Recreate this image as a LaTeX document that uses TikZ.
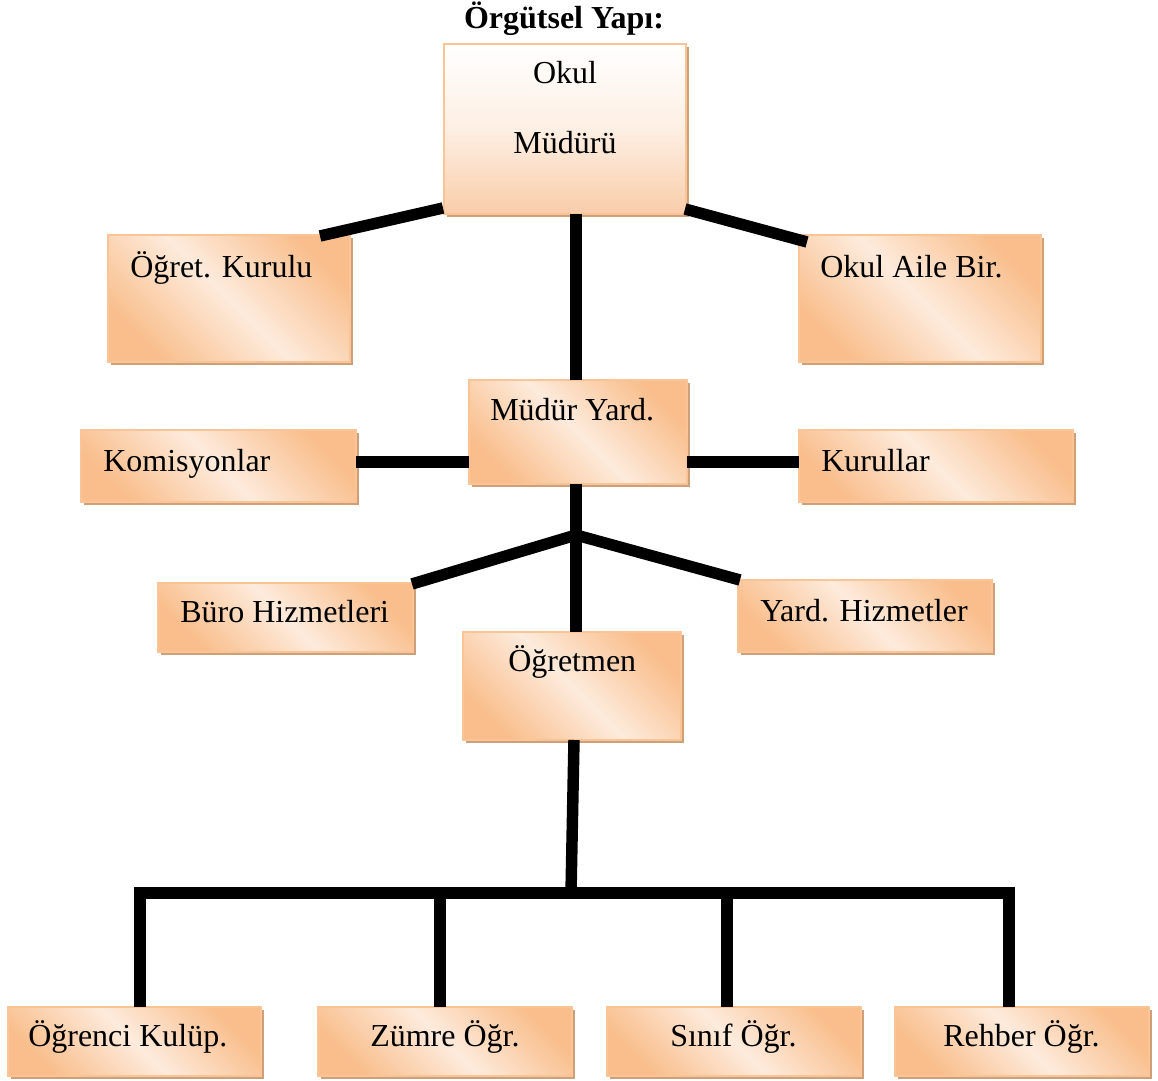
\documentclass[tikz,border=0pt]{standalone}
\usepackage{fontspec}
\setmainfont{Liberation Serif}
\usetikzlibrary{fit,calc,shadows}
\definecolor{orD}{RGB}{249,190,140}
\definecolor{orL}{RGB}{253,235,220}
\definecolor{orB}{RGB}{250,196,150}
\definecolor{shc}{RGB}{205,160,122}
\definecolor{orT}{RGB}{249,205,170}
\tikzset{
  boxbase/.style={draw=orB, line width=1.2pt, inner sep=0pt, outer sep=0pt, rectangle,
    general shadow={fill=shc, shadow xshift=2.6pt, shadow yshift=-2.6pt}},
  box/.style={boxbase, top color=orD, bottom color=orD, middle color=orL, shading angle=-45},
  topbox/.style={boxbase, top color=white, bottom color=orT, middle color=orL!80!white},
  lbl/.style={anchor=base west, inner sep=0pt},
  conn/.style={line width=8.6pt, black}
}
\begin{document}
\begin{tikzpicture}[x=0.75pt, y=-0.75pt, font=\fontsize{24}{28}\selectfont]
\useasboundingbox (0,0) rectangle (1158,1081);
% title
\node[anchor=base, inner sep=0pt, font=\fontsize{24}{28}\selectfont\bfseries] (title) at (564,29) {Örgütsel Yapı:};
% boxes
\node[topbox, fit={(444,44)(686,214)}] (okul) {};
\node[box, fit={(108,235)(350,362)}] (ogret) {};
\node[box, fit={(799,235)(1041,362)}] (oab) {};
\node[box, fit={(469,380)(687,484)}] (myd) {};
\node[box, fit={(81,430)(356,502)}] (kom) {};
\node[box, fit={(799,430)(1073,502)}] (kur) {};
\node[box, fit={(158,583)(413,652)}] (buro) {};
\node[box, fit={(738,580)(992,652)}] (yard) {};
\node[box, fit={(463,632)(681,740)}] (ogm) {};
\node[box, fit={(8,1007)(261,1076)}] (kulup) {};
\node[box, fit={(318,1007)(572,1076)}] (zumre) {};
\node[box, fit={(607,1007)(861,1076)}] (sinif) {};
\node[box, fit={(895,1007)(1149,1076)}] (rehber) {};
% labels
\node[anchor=base, inner sep=0pt] (t1) at (565,84) {Okul};
\node[anchor=base, inner sep=0pt] (t2) at (565,154) {Müdürü};
\node[lbl] (t3) at (130,277) {Öğret. Kurulu};
\node[lbl] (t4) at (820,277) {Okul Aile Bir.};
\node[lbl] (t5) at (490,420) {Müdür Yard.};
\node[lbl] (t6) at (103,471) {Komisyonlar};
\node[lbl] (t7) at (821,471) {Kurullar};
\node[lbl] (t8) at (180,622) {Büro Hizmetleri};
\node[lbl] (t9) at (760,621) {Yard. Hizmetler};
\node[lbl] (t10) at (508,671) {Öğretmen};
\node[lbl] (t11) at (28,1046) {Öğrenci Kulüp.};
\node[lbl] (t12) at (370,1046) {Zümre Öğr.};
\node[lbl] (t13) at (670,1046) {Sınıf Öğr.};
\node[lbl] (t14) at (943,1046) {Rehber Öğr.};
% connectors
\draw[conn] ($(okul.south west)+(-1,-6)$) -- ($(ogret.north east)+(-30,1)$);
\draw[conn] ($(okul.south east)+(-1,-5)$) -- ($(oab.north west)+(8,7)$);
\draw[conn] ($(okul.south)+(11,0)$) -- ($(myd.north)+(-2,0)$);
\coordinate (kl) at ($(kom.east)+(0,-4)$);
\draw[conn] (kl) -- (kl -| myd.west);
\coordinate (kr) at ($(kur.west)+(0,-4)$);
\draw[conn] (kr -| myd.east) -- (kr);
\coordinate (br) at (576,535);
\draw[conn] (br |- myd.south) -- (br) -- (br |- ogm.north);
\draw[conn] (br) -- ($(buro.north east)+(-1,1)$);
\draw[conn] (br) -- ($(yard.north west)+(2,0)$);
\coordinate (bus) at (571,893);
\draw[conn] ($(ogm.south)+(2,0)$) -- (bus);
\coordinate (d1) at (140,893);
\coordinate (d2) at (440,893);
\coordinate (d3) at (727,893);
\coordinate (d4) at (1009,893);
\draw[conn, line join=miter] (d1 |- kulup.north) -- (d1) -- (d4) -- (d4 |- rehber.north);
\draw[conn] (d2) -- (d2 |- zumre.north);
\draw[conn] (d3) -- (d3 |- sinif.north);
\end{tikzpicture}
\end{document}
